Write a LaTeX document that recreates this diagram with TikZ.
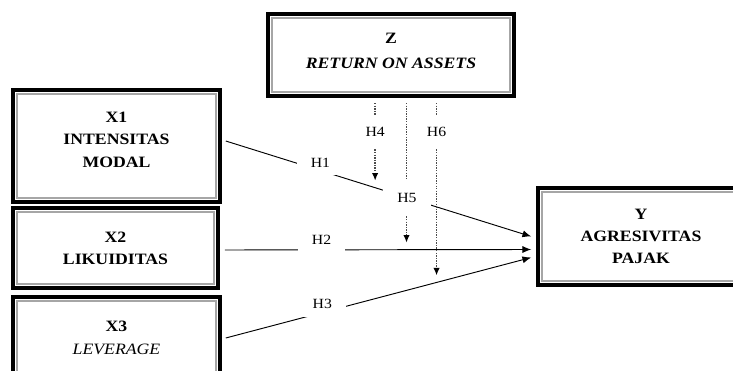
\documentclass[tikz,border=0pt]{standalone}
\usepackage{fontspec}
\setmainfont{Liberation Serif}[FakeStretch=1.12]
\usetikzlibrary{arrows.meta}

\begin{document}
\begin{tikzpicture}[
      x=0.03cm, y=-0.03cm,
      var/.style={draw,line width=3pt,inner sep=0pt,align=center,
        font=\fontsize{13.5}{19}\selectfont\bfseries},
      frame/.style={gray!70,line width=1.2pt},
      link/.style={line width=0.8pt,-{Latex[length=7.5pt,width=6pt]}},
      moder/.style={densely dotted,line width=1.2pt,black!70,
        -{Latex[length=6.5pt,width=5.5pt,black]},
        shorten <=4.5pt,shorten >=6pt},
      hyp/.style={fill=white,inner xsep=12pt,inner ysep=7pt,
        font=\fontsize{12}{14}\selectfont}
    ]
    \clip (0,0) rectangle (733,371);
    % Draw the variables.
    \node[var,minimum width=7.38cm,minimum height=2.46cm] (z) at (391,55)
      {Z\\[2pt]\textit{RETURN ON ASSETS}\\[-12pt]};
    \node[var,minimum width=6.21cm,minimum height=3.36cm] (x1) at (116.5,146)
      {X1\\INTENSITAS\\MODAL\\[-8pt]};
    \node[var,minimum width=6.15cm,minimum height=2.4cm] (x2) at (115.5,248)
      {X2\\LIKUIDITAS};
    \node[var,minimum width=6.21cm,minimum height=2.46cm] (x3) at (116.5,338)
      {X3\\{\mdseries\itshape LEVERAGE}};
    \node[var,minimum width=6.18cm,minimum height=2.91cm] (y) at (641,236.5)
      {Y\\AGRESIVITAS\\PAJAK};
    % Draw the inner frames.
    \foreach \n in {z,x1,x2,x3,y}
      \draw[frame] ([shift={(5pt,5pt)}]\n.south west) rectangle ([shift={(-5pt,-5pt)}]\n.north east);
    % Draw the direct effects.
    \draw[link] ([shift={(4,-5)}]x1.east) -- coordinate[pos=0.31] (h1)
      coordinate[pos=0.489] (m1) coordinate[pos=0.593] (h5) ([shift={(-5,0)}]y.west);
    \draw[link] ([shift={(5,2)}]x2.east) -- coordinate[pos=0.316] (h2)
      coordinate[pos=0.593] (m2) ([shift={(-5,13)}]y.west);
    \draw[link] ([shift={(4,0)}]x3.east) -- coordinate[pos=0.316] (h3)
      coordinate[pos=0.69] (m3) ([shift={(-5,21)}]y.west);
    % Draw the moderating effects.
    \draw[moder] (z.south -| m1) -- coordinate[pos=0.38] (h4) (m1);
    \draw[moder] (z.south -| m2) -- (m2);
    \draw[moder] (z.south -| m3) -- coordinate[pos=0.186] (h6) (m3);
    % Draw the hypothesis labels.
    \node[hyp,yshift=7pt] (l1) at (h1) {H1};
    \node[hyp,yshift=8.5pt] (l2) at (h2) {H2};
    \node[hyp,yshift=7pt] (l3) at (h3) {H3};
    \node[hyp,inner ysep=10.5pt] (l4) at (h4) {H4};
    \node[hyp,inner ysep=12pt] (l5) at (h5) {H5};
    \node[hyp,inner ysep=10.5pt] (l6) at (h6) {H6};
    \end{tikzpicture}
\end{document}
